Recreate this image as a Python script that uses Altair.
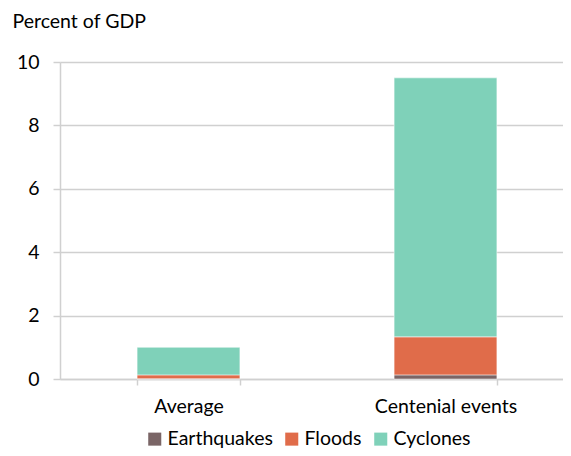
import altair as alt
import pandas as pd

categories = ["Average", "Centenial events"]
hazards = ["Earthquakes", "Floods", "Cyclones"]
earthquakes = [0.01, 0.13]
floods = [0.12, 1.20]
cyclones = [0.87, 8.17]
colors = ["#7a6566", "#e06c4a", "#7fd1b9"]
y_ticks = [0, 2, 4, 6, 8, 10]

rows = []
for i, c in enumerate(categories):
    for j, (h, vals) in enumerate(zip(hazards, [earthquakes, floods, cyclones])):
        rows.append({"category": c, "hazard": h, "value": vals[i], "order": j})
df = pd.DataFrame(rows)

FONT = "Lato"
FS = 19.5
GRID = "#d0d0d0"

chart = alt.Chart(df).mark_bar(stroke="white", strokeWidth=0.5).encode(
    x=alt.X(
        "category:N",
        sort=categories,
        scale=alt.Scale(range=[0, 514], paddingInner=0.6, paddingOuter=0.3),
        axis=alt.Axis(
            title=None, labelAngle=0, tickBand="extent", ticks=True, tickSize=6,
            tickColor=GRID, tickWidth=1.5, domainColor=GRID, domainWidth=1.5,
            labelFont=FONT, labelFontSize=FS, labelColor="#000000", labelPadding=12,
            grid=False,
        ),
    ),
    y=alt.Y(
        "value:Q",
        scale=alt.Scale(domain=[0, 10]),
        axis=alt.Axis(
            values=y_ticks, title="Percent of GDP", titleAngle=0, titleX=-48, titleY=-41,
            titleAlign="left", titleBaseline="middle", titleFont=FONT, titleFontSize=FS,
            titleFontWeight="normal", titleColor="#000000",
            labelFont=FONT, labelFontSize=FS, labelColor="#000000", labelPadding=14,
            tickSize=7, tickColor=GRID, tickWidth=1.5, domainColor=GRID, domainWidth=1.5,
            grid=True, gridColor=GRID, gridWidth=1.5,
        ),
    ),
    color=alt.Color(
        "hazard:N",
        scale=alt.Scale(domain=hazards, range=colors),
        legend=alt.Legend(
            title=None, orient="none", legendX=85, legendY=367, direction="horizontal",
            symbolType="square", symbolSize=170, symbolStrokeWidth=0,
            labelFont=FONT, labelFontSize=FS, labelColor="#000000", columnPadding=9,
            labelOffset=3,
        ),
    ),
    order=alt.Order("order:Q", sort="ascending"),
).properties(
    width=503, height=317,
    autosize=alt.AutoSizeParams(type="none"),
    padding={"left": 52, "top": 54, "right": 0, "bottom": 69},
).configure_view(stroke=None)

chart.save("out.html", embed_options={"renderer": "svg", "actions": False})
